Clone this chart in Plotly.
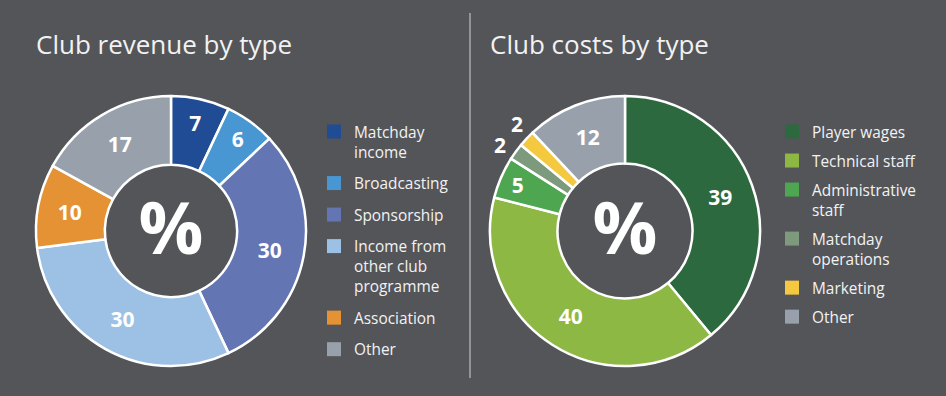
import math
import plotly.graph_objects as go

W, H = 946, 396

# ---- data ----
rev_labels = ["Matchday<br>income", "Broadcasting", "Sponsorship",
              "Income from<br>other club<br>programme", "Association", "Other"]
rev_values = [7, 6, 30, 30, 10, 17]
rev_colors = ["#1f4c94", "#4897d3", "#6375b2", "#9dc0e5", "#e59234", "#98a1ab"]

cost_labels = ["Player wages", "Technical staff", "Administrative<br>staff",
               "Matchday<br>operations", "Marketing", "Other"]
cost_values = [39, 40, 5, 2, 2, 12]
cost_colors = ["#2d693e", "#8cb843", "#4ea651", "#7e9a7d", "#f4c940", "#98a1ab"]
cost_outside = [False, False, False, True, True, False]  # labels set outside the ring

BG = "#545559"
TXT = "#f2f2f2"
FONT = "Open Sans"

# pie geometry (pixels)
REV_C = (171, 231)
COST_C = (625, 231)
RAD = 135
MIN_SEP_DEG = 10  # minimum angular separation of neighbouring outside labels


def px_x(v):
    return v / W


def px_y(v):
    return 1 - v / H


def dom(c):
    return dict(x=[px_x(c[0] - RAD), px_x(c[0] + RAD)],
                y=[px_y(c[1] + RAD), px_y(c[1] - RAD)])


lab_font = dict(family=FONT, size=21, color="white", weight="bold")
pct_font = dict(family=FONT, size=72, color="white", weight="bold")

fig = go.Figure()

# revenue donut
fig.add_trace(go.Pie(
    labels=rev_labels, values=rev_values, sort=False, direction="clockwise",
    hole=0.49, showlegend=False,
    marker=dict(colors=rev_colors, line=dict(color="white", width=2.5)),
    texttemplate="%{value}", textposition="inside", insidetextorientation="horizontal",
    textfont=lab_font,
    title=dict(text="%", position="middle center", font=pct_font),
    domain=dom(REV_C), hoverinfo="label+value",
))

# costs donut
fig.add_trace(go.Pie(
    labels=cost_labels, values=cost_values, sort=False, direction="clockwise",
    hole=0.5, showlegend=False,
    marker=dict(colors=cost_colors, line=dict(color="white", width=2.5)),
    texttemplate="%{value}",
    textposition=["none" if o else "inside" for o in cost_outside],
    insidetextorientation="horizontal",
    textfont=lab_font,
    title=dict(text="%", position="middle center", font=pct_font),
    domain=dom(COST_C), hoverinfo="label+value",
))

# labels of the thin slices, placed just outside the ring at each slice's mid-angle,
# pushed apart symmetrically so neighbours do not collide
total = sum(cost_values)
cum = 0
outs = []
for v, out in zip(cost_values, cost_outside):
    mid_deg = 360 * (cum + v / 2) / total
    cum += v
    if out:
        outs.append([v, mid_deg])
if len(outs) > 1:
    centre = sum(a for _, a in outs) / len(outs)
    span = max(outs[-1][1] - outs[0][1], MIN_SEP_DEG * (len(outs) - 1))
    for i, o in enumerate(outs):
        o[1] = centre - span / 2 + span * i / (len(outs) - 1)

annotations = []
for v, ang in outs:
    th = math.radians(ang)
    r = RAD + 17
    annotations.append(dict(
        text=str(v), x=px_x(COST_C[0] + r * math.sin(th)), y=px_y(COST_C[1] - r * math.cos(th)),
        xref="paper", yref="paper", xanchor="center", yanchor="middle", showarrow=False,
        font=lab_font))

# legend entries (square swatches) drawn from the same category arrays
for lab, col in zip(rev_labels, rev_colors):
    fig.add_trace(go.Scatter(
        x=[None], y=[None], mode="markers", name=lab, legendgroup="r" + lab,
        marker=dict(symbol="square", size=14, color=col, line=dict(width=0)),
        legend="legend", hoverinfo="skip"))
for lab, col in zip(cost_labels, cost_colors):
    fig.add_trace(go.Scatter(
        x=[None], y=[None], mode="markers", name=lab, legendgroup="c" + lab,
        marker=dict(symbol="square", size=14, color=col, line=dict(width=0)),
        legend="legend2", hoverinfo="skip"))

legend_common = dict(
    bgcolor="rgba(0,0,0,0)", borderwidth=0, valign="top",
    font=dict(family=FONT, size=15.4, color=TXT), xanchor="left", yanchor="top",
    itemclick=False, itemdoubleclick=False,
)

annotations += [
    dict(text="Club revenue by type", x=px_x(34), y=px_y(44), xref="paper", yref="paper",
         xanchor="left", yanchor="middle", showarrow=False,
         font=dict(family=FONT, size=26, color=TXT)),
    dict(text="Club costs by type", x=px_x(488), y=px_y(44), xref="paper", yref="paper",
         xanchor="left", yanchor="middle", showarrow=False,
         font=dict(family=FONT, size=26, color=TXT)),
]

fig.update_layout(
    width=W, height=H,
    margin=dict(l=0, r=0, t=0, b=0),
    paper_bgcolor=BG, plot_bgcolor=BG,
    xaxis=dict(visible=False), yaxis=dict(visible=False),
    legend=dict(x=px_x(314), y=px_y(115), tracegroupgap=8.5, **legend_common),
    legend2=dict(x=px_x(772), y=px_y(115), tracegroupgap=6, **legend_common),
    uniformtext=dict(minsize=21, mode="show"),
    annotations=annotations,
    shapes=[
        dict(type="line", xref="paper", yref="paper", x0=px_x(470), x1=px_x(470),
             y0=px_y(13), y1=px_y(378), line=dict(color="#a9aaae", width=1.5)),
    ],
)

fig.write_html(
    "out.html",
    config={"displayModeBar": False},
    post_script="document.body.style.margin='0';document.body.style.overflow='hidden';",
)
